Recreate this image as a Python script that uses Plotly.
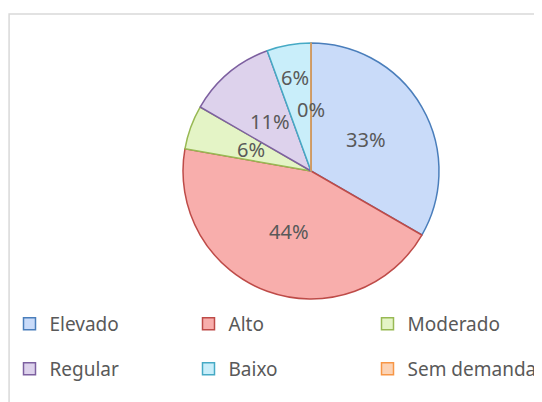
import math
import plotly.graph_objects as go

# categorias e contagens (6/18 = 33%, 8/18 = 44%, ...)
labels = ['Elevado', 'Alto', 'Moderado', 'Regular', 'Baixo', 'Sem demanda']
counts = [6, 8, 1, 2, 1, 0]

fill_colors = ['#c9dbf9', '#f8aeac', '#e4f4c6', '#ddd2ec', '#c9eefa', '#fcd3b5']
line_colors = ['#4a7ebb', '#be4b48', '#98b954', '#7d60a0', '#46aac5', '#f79646']
# where each percent label sits, as a fraction of the radius (Excel "best fit")
label_radius = [0.5, 0.5, 0.5, 0.5, 0.74, 0.48]

W, H = 542, 402
cx, cy, r = 303, 163, 128
TXT = '#595959'
FONT = 'Noto Sans'

fig = go.Figure()
fig.add_trace(go.Pie(
    labels=labels,
    values=counts,
    sort=False,
    direction='clockwise',
    rotation=0,
    marker=dict(colors=fill_colors, line=dict(color=line_colors, width=1.5)),
    textinfo='none',
    domain=dict(x=[(cx - r) / W, (cx + r) / W],
                y=[1 - (cy + r) / H, 1 - (cy - r) / H]),
    showlegend=False,
    hoverinfo='label+percent',
))

# percent labels placed at the middle angle of each slice
total = sum(counts)
start = 0
for val, frac in zip(counts, label_radius):
    mid = 2 * math.pi * (start + val / 2) / total
    start += val
    rad = frac * r
    fig.add_annotation(
        x=(cx + rad * math.sin(mid)) / W,
        y=1 - (cy - rad * math.cos(mid)) / H,
        xref='paper', yref='paper', xanchor='center', yanchor='middle',
        text=f'{round(100 * val / total)}%', showarrow=False,
        font=dict(family=FONT, size=20, color=TXT),
    )

# legend entries, two rows of three like the original
for i, (lab, fc, lc) in enumerate(zip(labels, fill_colors, line_colors)):
    fig.add_trace(go.Scatter(
        x=[None], y=[None], mode='markers', name=lab,
        marker=dict(symbol='square', size=12, color=fc,
                    line=dict(color=lc, width=1.5)),
        legend='legend' if i < 3 else 'legend2',
    ))

legend_common = dict(
    orientation='h', xanchor='left', yanchor='middle',
    x=1.5 / W, entrywidth=134, entrywidthmode='pixels',
    font=dict(family=FONT, size=19, color=TXT),
    bgcolor='rgba(0,0,0,0)',
)

fig.update_layout(
    width=W, height=H,
    margin=dict(l=0, r=0, t=0, b=0),
    paper_bgcolor='white',
    plot_bgcolor='white',
    font=dict(family=FONT, color=TXT),
    xaxis=dict(visible=False),
    yaxis=dict(visible=False),
    legend=dict(legend_common, y=1 - 316 / H),
    legend2=dict(legend_common, y=1 - 361 / H),
    shapes=[dict(type='rect', xref='paper', yref='paper',
                 x0=0.002, x1=1.02, y0=-0.02, y1=1 - 6 / H,
                 line=dict(color='#d9d9d9', width=1.5))],
)

fig.write_html("out.html")
